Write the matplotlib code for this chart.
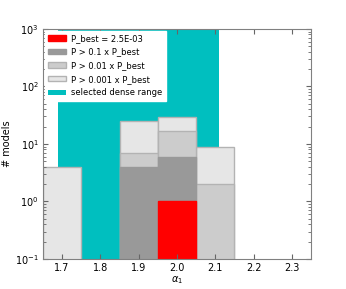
import matplotlib
matplotlib.use("Agg")
import matplotlib.pyplot as plt
import numpy as np

# bin centres of alpha_1 and number of models per probability threshold
alpha = [1.7, 1.8, 1.9, 2.0, 2.1, 2.2, 2.3]
n_001 = [4, 0, 25, 29, 9, 0, 0]   # P > 0.001 x P_best
n_01 = [0, 0, 7, 17, 2, 0, 0]     # P > 0.01 x P_best
n_1 = [0, 0, 4, 6, 0, 0, 0]       # P > 0.1 x P_best
n_best = [0, 0, 0, 1, 0, 0, 0]    # P_best
p_best = "2.5E-03"
dense_range = (1.69, 2.11)

plt.rcParams['font.size'] = 7
fig = plt.figure(figsize=(3.46, 2.89), dpi=100)
ax = fig.add_axes([0.124, 0.104, 0.775, 0.796])

ax.axvspan(dense_range[0], dense_range[1], color='c', lw=0, label='selected dense range')
ax.bar(alpha, n_001, width=0.1, color='0.9', edgecolor='0.7', label='P > 0.001 x P_best')
ax.bar(alpha, n_01, width=0.1, color='0.8', edgecolor='0.7', label='P > 0.01 x P_best')
ax.bar(alpha, n_1, width=0.1, color='0.6', edgecolor='0.6', label='P > 0.1 x P_best')
ax.bar(alpha, n_best, width=0.1, color='red', edgecolor='red', label='P_best = ' + p_best)

ax.set_yscale('log')
ax.set_ylim(0.1, 1000)
ax.set_xlim(1.65, 2.35)
ax.set_xticks(alpha)
ax.tick_params(which='both', direction='in', top=True, right=True, labelsize=7,
               color='0.4', pad=3)
for s in ax.spines.values():
    s.set_color('0.5')
ax.set_xlabel(r'$\alpha_1$', labelpad=1)
ax.set_ylabel('# models', labelpad=2)

h, l = ax.get_legend_handles_labels()
order = [4, 3, 2, 1, 0]
leg = ax.legend([h[i] for i in order], [l[i] for i in order], loc='upper left',
                fontsize=6, frameon=True, fancybox=False, framealpha=1,
                borderaxespad=0.2, handlelength=2.2, handleheight=0.6,
                labelspacing=0.55, handletextpad=0.6)
leg.get_frame().set_edgecolor('white')

fig.savefig('out.png', dpi=100)
